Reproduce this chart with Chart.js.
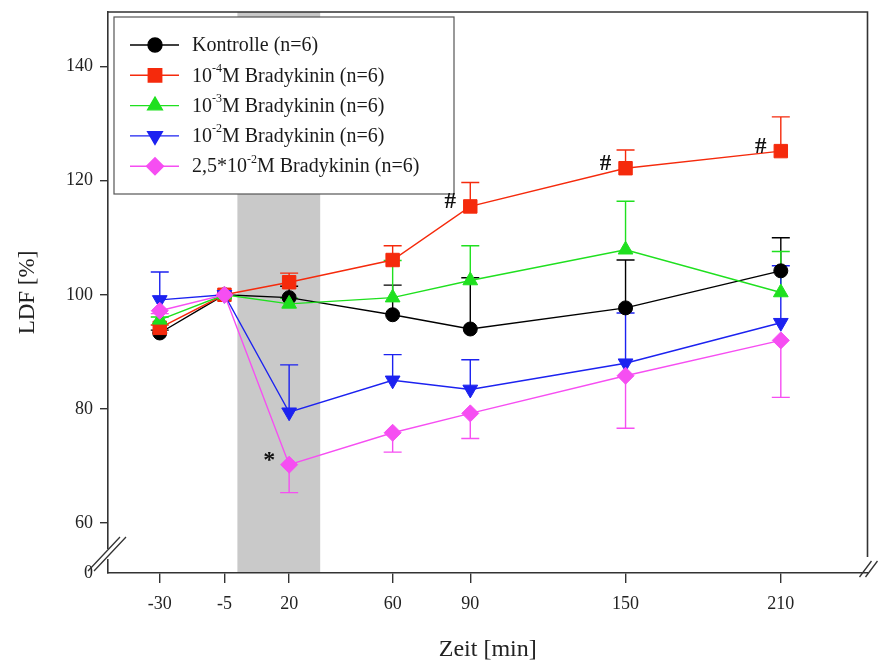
<!DOCTYPE html>
<html>
<head>
<meta charset="utf-8">
<title>LDF Bradykinin</title>
<script src="https://cdn.jsdelivr.net/npm/chart.js@4.4.0/dist/chart.umd.min.js"></script>
<style>
  html, body { margin: 0; padding: 0; background: #fff; }
  #wrap { width: 878px; height: 664px; }
</style>
</head>
<body>
<div id="wrap"><canvas id="ldfChart" width="878" height="664"></canvas></div>
<script>
// Time points (min) and axis ticks
const timePoints = [-30, -5, 20, 60, 90, 150, 210];
const xTickValues = [-30, -5, 20, 60, 90, 150, 210];
const yTickValues = [60, 80, 100, 120, 140];
const yBreakLabel = '0';

// Series labels (^ marks a superscript exponent)
const seriesLabels = [
    'Kontrolle (n=6)',
    '10^-4M Bradykinin (n=6)',
    '10^-3M Bradykinin (n=6)',
    '10^-2M Bradykinin (n=6)',
    '2,5*10^-2M Bradykinin (n=6)'
];

// Mean values, LDF [%]
const kontrolle = [93.3, 100, 99.5, 96.5, 94.0, 97.7, 104.2];
const brady4 = [94.2, 100, 102.2, 106.1, 115.5, 122.2, 125.2];
const brady3 = [95.6, 100, 98.4, 99.5, 102.5, 107.9, 100.4];
const brady2 = [99.1, 100, 79.4, 85.0, 83.4, 88.0, 95.1];
const brady25 = [97.2, 100, 70.2, 75.8, 79.2, 85.8, 92.0];

// Error bar lengths (one-sided)
const kontrolleErr = [0.5, 0, 2.0, 5.2, 9.0, 8.4, 5.8];
const brady4Err = [0.5, 0, 1.6, 2.5, 4.2, 3.2, 6.0];
const brady3Err = [0.5, 0, 1.0, 6.5, 6.1, 8.5, 7.2];
const brady2Err = [4.9, 0, 8.3, 4.5, 5.2, 8.8, 10.0];
const brady25Err = [0.5, 0, 4.9, 3.4, 4.4, 9.2, 10.0];

// Bradykinin application period (min)
const bandStart = 0;
const bandEnd = 32;

// Significance marks: series index, time index, symbol
const marks = [
    { series: 1, index: 4, symbol: '#' },
    { series: 1, index: 5, symbol: '#' },
    { series: 1, index: 6, symbol: '#' },
    { series: 4, index: 2, symbol: '*' }
];

const SERIF = "'Liberation Serif', 'DejaVu Serif', serif";
const AXIS_COLOR = '#333';

function makeSeries(label, values, errors, errDir, color, style, radius, rotation, order) {
    return {
        label: label,
        data: timePoints.map((t, i) => ({ x: t, y: values[i] })),
        errors: errors,
        errDir: errDir,
        borderColor: color,
        backgroundColor: color,
        borderWidth: 1.4,
        pointStyle: style,
        pointRadius: radius,
        pointRotation: rotation,
        pointBorderColor: color,
        pointBackgroundColor: color,
        pointBorderWidth: 1,
        tension: 0,
        order: order
    };
}

const datasets = [
    makeSeries(seriesLabels[0], kontrolle, kontrolleErr, 1, '#000000', 'circle', 7, 0, 5),
    makeSeries(seriesLabels[1], brady4, brady4Err, 1, '#f52a0c', 'rect', 9.5, 0, 4),
    makeSeries(seriesLabels[2], brady3, brady3Err, 1, '#1fe01f', 'triangle', 8.5, 0, 3),
    makeSeries(seriesLabels[3], brady2, brady2Err, 1, '#1c22f0', 'triangle', 8.5, 180, 2),
    makeSeries(seriesLabels[4], brady25, brady25Err, -1, '#f64ef2', 'rectRot', 8.5, 0, 1)
];

// Grey band behind everything
const bandPlugin = {
    id: 'band',
    beforeDraw(chart) {
        const { ctx, chartArea, scales } = chart;
        const x0 = scales.x.getPixelForValue(bandStart);
        const x1 = scales.x.getPixelForValue(bandEnd);
        ctx.save();
        ctx.fillStyle = '#c9c9c9';
        ctx.fillRect(x0, chartArea.top, x1 - x0, chartArea.bottom - chartArea.top);
        ctx.restore();
    }
};

// One-sided error bars
const errorBarPlugin = {
    id: 'errorBars',
    beforeDatasetsDraw(chart) {
        const { ctx, scales } = chart;
        ctx.save();
        chart.data.datasets.forEach((ds, di) => {
            const meta = chart.getDatasetMeta(di);
            ctx.strokeStyle = ds.borderColor;
            ctx.lineWidth = 1.4;
            meta.data.forEach((pt, i) => {
                const err = ds.errors[i];
                if (!err) return;
                const yEnd = scales.y.getPixelForValue(ds.data[i].y + ds.errDir * err);
                ctx.beginPath();
                ctx.moveTo(pt.x, pt.y);
                ctx.lineTo(pt.x, yEnd);
                ctx.moveTo(pt.x - 9, yEnd);
                ctx.lineTo(pt.x + 9, yEnd);
                ctx.stroke();
            });
        });
        ctx.restore();
    }
};

function drawRichText(ctx, text, x, y, size) {
    const parts = text.split(/\^(-?\d+)/);
    let cx = x;
    parts.forEach((part, k) => {
        if (!part) return;
        const sup = k % 2 === 1;
        ctx.font = (sup ? Math.round(size * 0.6) : size) + 'px ' + SERIF;
        ctx.fillText(part, cx, sup ? y - size * 0.38 : y);
        cx += ctx.measureText(part).width;
    });
}

// Frame, axis breaks, legend and significance marks
const overlayPlugin = {
    id: 'overlay',
    afterDraw(chart) {
        const { ctx, chartArea: a } = chart;
        ctx.save();

        // top and right frame lines
        ctx.strokeStyle = AXIS_COLOR;
        ctx.lineWidth = 1.6;
        ctx.beginPath();
        ctx.moveTo(a.left, a.top);
        ctx.lineTo(a.right, a.top);
        ctx.lineTo(a.right, a.bottom - 16);
        ctx.stroke();

        // y axis break
        ctx.fillStyle = '#fff';
        ctx.fillRect(a.left - 2, a.bottom - 24, 4, 10);
        ctx.lineWidth = 1.3;
        ctx.beginPath();
        [-3, 3].forEach(dx => {
            ctx.moveTo(a.left + dx - 17, a.bottom - 2);
            ctx.lineTo(a.left + dx + 15, a.bottom - 36);
        });
        ctx.stroke();

        // x axis break at the right end
        ctx.beginPath();
        [-2, 4].forEach(dx => {
            ctx.moveTo(a.right + dx - 6, a.bottom + 4);
            ctx.lineTo(a.right + dx + 6, a.bottom - 12);
        });
        ctx.stroke();

        // legend box
        const box = { x: 114, y: 17, w: 340, h: 177 };
        ctx.fillStyle = '#fff';
        ctx.fillRect(box.x, box.y, box.w, box.h);
        ctx.strokeStyle = '#555';
        ctx.lineWidth = 1.2;
        ctx.strokeRect(box.x, box.y, box.w, box.h);

        ctx.textAlign = 'left';
        ctx.textBaseline = 'middle';
        chart.data.datasets.forEach((ds, i) => {
            const y = box.y + 28 + i * 30.3;
            ctx.strokeStyle = ds.borderColor;
            ctx.lineWidth = 1.4;
            ctx.beginPath();
            ctx.moveTo(box.x + 16, y);
            ctx.lineTo(box.x + 65, y);
            ctx.stroke();
            ctx.fillStyle = ds.backgroundColor;
            Chart.helpers.drawPoint(ctx, {
                pointStyle: ds.pointStyle,
                radius: ds.pointRadius,
                rotation: ds.pointRotation,
                borderWidth: 1
            }, box.x + 41, y);
            ctx.fillStyle = '#1a1a1a';
            drawRichText(ctx, ds.label, box.x + 78, y + 1, 20);
        });

        // significance marks
        ctx.fillStyle = '#111';
        ctx.textAlign = 'center';
        ctx.textBaseline = 'middle';
        marks.forEach(m => {
            const pt = chart.getDatasetMeta(m.series).data[m.index];
            ctx.font = (m.symbol === '#' ? 'bold 23px ' : 'bold 24px ') + SERIF;
            ctx.fillText(m.symbol, pt.x - 20, pt.y - 4);
        });
        ctx.restore();
    }
};

const chart = new Chart(document.getElementById('ldfChart'), {
    type: 'line',
    data: { datasets: datasets },
    options: {
        responsive: false,
        animation: false,
        devicePixelRatio: 1,
        layout: { padding: { left: 0, right: 9, top: 12, bottom: 0 } },
        plugins: {
            legend: { display: false },
            tooltip: { enabled: false }
        },
        scales: {
            x: {
                type: 'linear',
                min: -50,
                max: 243.5,
                afterBuildTicks: s => { s.ticks = xTickValues.map(v => ({ value: v })); },
                afterFit: s => { s.height = 91; s.paddingLeft = 0; s.paddingRight = 0; },
                ticks: {
                    autoSkip: false,
                    maxRotation: 0,
                    padding: 10,
                    color: '#222',
                    font: { family: SERIF, size: 18 }
                },
                grid: {
                    drawOnChartArea: false,
                    tickLength: 10,
                    color: AXIS_COLOR,
                    lineWidth: 1.4
                },
                border: { color: AXIS_COLOR, width: 1.6 },
                title: {
                    display: true,
                    text: 'Zeit [min]',
                    color: '#222',
                    font: { family: SERIF, size: 24 },
                    padding: { top: 0, bottom: 0 }
                }
            },
            y: {
                type: 'linear',
                min: 51.2,
                max: 149.6,
                afterBuildTicks: s => {
                    s.ticks = [{ value: 51.2 }].concat(yTickValues.map(v => ({ value: v })));
                },
                afterFit: s => { s.width = 108; s.paddingTop = 0; s.paddingBottom = 0; },
                ticks: {
                    padding: 7,
                    color: '#222',
                    font: { family: SERIF, size: 18 },
                    callback: v => (v < 55 ? yBreakLabel : v)
                },
                grid: {
                    drawOnChartArea: false,
                    tickLength: 8,
                    color: AXIS_COLOR,
                    tickColor: c => (c.tick && c.tick.value < 55 ? 'rgba(0,0,0,0)' : AXIS_COLOR),
                    lineWidth: 1.4
                },
                border: { color: AXIS_COLOR, width: 1.6 },
                title: {
                    display: true,
                    text: 'LDF [%]',
                    color: '#222',
                    font: { family: SERIF, size: 23 },
                    padding: { top: 14, bottom: 0 }
                }
            }
        }
    },
    plugins: [bandPlugin, errorBarPlugin, overlayPlugin]
});
</script>
</body>
</html>
